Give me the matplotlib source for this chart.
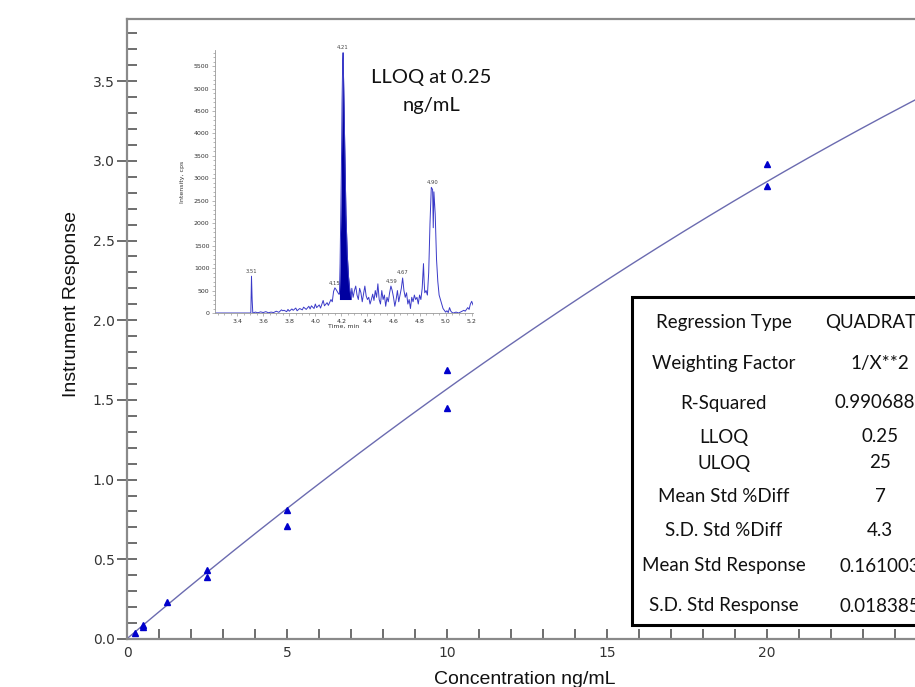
import numpy as np
import matplotlib
matplotlib.use("Agg")
import matplotlib.pyplot as plt
from matplotlib.patches import Rectangle
from matplotlib.ticker import MultipleLocator, FormatStrFormatter

# calibration standards (ng/mL) and measured response
conc = [0.25, 0.5, 0.5, 1.25, 2.5, 2.5, 5, 5, 10, 10, 20, 20]
resp = [0.04, 0.09, 0.075, 0.232, 0.433, 0.39, 0.81, 0.71, 1.69, 1.45, 2.98, 2.84]

# quadratic regression (x^2, x, const)
fit_coef = [-0.00133, 0.170, 0.002]

# summary table
table_labels = ["Regression Type", "Weighting Factor", "R-Squared", "LLOQ", "ULOQ",
                "Mean Std %Diff", "S.D. Std %Diff", "Mean Std Response", "S.D. Std Response"]
table_values = ["QUADRATIC", "1/X**2", "0.9906888", "0.25", "25",
                "7", "4.3", "0.161003", "0.018385"]

# LLOQ chromatogram (time min, intensity cps)
chrom_t = [3.23, 3.30, 3.40, 3.49, 3.505, 3.51, 3.515, 3.52, 3.54, 3.56, 3.58, 3.60, 3.62,
           3.64, 3.66, 3.68, 3.70, 3.72, 3.74, 3.75, 3.76, 3.78, 3.79, 3.80, 3.82, 3.83,
           3.85, 3.86, 3.88, 3.90, 3.91, 3.93, 3.95, 3.96, 3.97, 3.99, 4.00, 4.01, 4.03,
           4.04, 4.06, 4.07, 4.09, 4.10, 4.12, 4.13, 4.14, 4.15, 4.16, 4.17, 4.18,
           4.185, 4.19, 4.20, 4.205, 4.21, 4.213, 4.218, 4.225, 4.235, 4.245, 4.255, 4.265,
           4.275, 4.28, 4.29, 4.30, 4.31, 4.32, 4.33, 4.34, 4.35, 4.36, 4.37, 4.38, 4.39,
           4.40, 4.41, 4.42, 4.43, 4.44, 4.45, 4.46, 4.47, 4.48, 4.49, 4.50, 4.51, 4.52,
           4.53, 4.54, 4.55, 4.56, 4.57, 4.58, 4.59, 4.60, 4.61, 4.62, 4.63, 4.64, 4.65,
           4.66, 4.67, 4.68, 4.69, 4.70, 4.71, 4.72, 4.73, 4.74, 4.75, 4.76, 4.77, 4.78,
           4.79, 4.80, 4.81, 4.82, 4.83, 4.835, 4.84, 4.85, 4.86, 4.87, 4.88, 4.89, 4.90,
           4.905, 4.91, 4.92, 4.93, 4.94, 4.95, 4.96, 4.97, 4.98, 4.99, 5.00, 5.01, 5.02,
           5.03, 5.04, 5.05, 5.06, 5.08, 5.10, 5.12, 5.14, 5.15, 5.17, 5.18, 5.19, 5.20, 5.21]
chrom_i = [0, 0, 0, 0, 0, 820, 300, 0, 20, 5, 25, 10, 30,
           5, 20, 10, 40, 15, 70, 50, 60, 30, 80, 40, 90, 60,
           110, 50, 100, 70, 130, 80, 150, 90, 160, 100, 200, 120, 180,
           110, 280, 160, 230, 170, 300, 250, 480, 560, 520, 470, 420,
           420, 1100, 3200, 4700, 5600, 5800, 5000, 3800, 2200, 1300, 800, 500,
           350, 550, 350, 500, 600, 400, 300, 550, 450, 250, 420, 600, 380,
           300, 350, 200, 300, 420, 280, 500, 350, 650, 300, 200, 500, 300,
           400, 150, 350, 250, 450, 600, 500, 350, 150, 300, 500, 250, 400,
           550, 780, 500, 350, 450, 200, 300, 100, 350, 250, 400, 300, 350,
           200, 400, 300, 550, 1100, 700, 450, 500, 400, 900, 2000, 2800, 2750,
           1900, 2700, 2200, 1200, 700, 400, 300, 200, 100, 60, 20, 50, 10,
           120, 40, 10, 0, 20, 0, 30, 60, 40, 120, 80, 200, 260, 180]
peak_t = [3.51, 4.145, 4.21, 4.585, 4.67, 4.90]
peak_i = [820, 540, 5800, 580, 780, 2800]
peak_lbl = ["3.51", "4.15", "4.21", "4.59", "4.67", "4.90"]

W, H = 915, 687
fig = plt.figure(figsize=(W / 100, H / 100), dpi=100)

narrow = ["Liberation Sans Narrow", "Liberation Sans", "DejaVu Sans"]
gothic = ["Lato", "DejaVu Sans"]
axis_grey = "#8a8a8a"

# ---- main calibration axes ----
ax = fig.add_axes([127 / W, 1 - 639 / H, 26 * 32 / W, 620 / H])
ax.set_xlim(0, 26)
ax.set_ylim(0, 3.89)

xs = np.linspace(0, 26, 300)
ax.plot(xs, np.polyval(fit_coef, xs), color="#6b6bb0", lw=1.0, zorder=2)
ax.plot(conc, resp, ls="none", marker="^", ms=5, color="#0000cc", zorder=3)

for s in ["top", "left", "bottom", "right"]:
    ax.spines[s].set_color(axis_grey)
    ax.spines[s].set_linewidth(1.6)

ax.xaxis.set_major_locator(MultipleLocator(5))
ax.xaxis.set_minor_locator(MultipleLocator(1))
ax.yaxis.set_major_locator(MultipleLocator(0.5))
ax.yaxis.set_minor_locator(MultipleLocator(0.1))
ax.yaxis.set_major_formatter(FormatStrFormatter("%.1f"))
ax.tick_params(axis="x", which="both", direction="in", length=7, width=1.2,
               color="#555555", labelsize=10, labelcolor="#333333", pad=5)
ax.tick_params(axis="y", which="major", direction="inout", length=14, width=1.2,
               color="#555555", labelsize=10, labelcolor="#333333", pad=2)
ax.tick_params(axis="y", which="minor", direction="in", length=7, width=1.2, color="#555555")
ax.tick_params(top=False, right=False, which="both")

fig.text(72 / W, 1 - 304 / H, "Instrument Response", rotation=90, ha="center", va="center",
         fontsize=14, family=narrow, color="#111111")
fig.text(525 / W, 1 - 680 / H, "Concentration ng/mL", ha="center", va="center",
         fontsize=14, family=narrow, color="#111111")

# ---- summary table ----
fig.patches.append(Rectangle((632 / W, 1 - 625 / H), 400 / W, 328 / H, transform=fig.transFigure,
                             facecolor="white", edgecolor="black", lw=2.2, zorder=5))
row_y = [323, 363, 403, 437, 463, 497, 531, 566, 606]
for yy, lab, val in zip(row_y, table_labels, table_values):
    fig.text(724 / W, 1 - yy / H, lab, ha="center", va="center", fontsize=13.5,
             family=gothic, color="#111111", zorder=6)
    fig.text(880 / W, 1 - yy / H, val, ha="center", va="center", fontsize=13.5,
             family=gothic, color="#111111", zorder=6)

# ---- inset chromatogram ----
ins = fig.add_axes([215 / W, 1 - 313 / H, 258 / W, 263 / H])
ins.set_xlim(3.23, 5.21)
ins.set_ylim(0, 5860)
ins.plot(chrom_t, chrom_i, color="#3a3ac8", lw=0.7)
t_arr = np.array(chrom_t)
i_arr = np.array(chrom_i)
m = (t_arr >= 4.185) & (t_arr <= 4.275)
ins.fill_between(t_arr[m], 300, i_arr[m], color="#0000a0", lw=0)
for pt, pi, pl in zip(peak_t, peak_i, peak_lbl):
    ins.text(pt, pi + 60, pl, ha="center", va="bottom", fontsize=3.8, color="#444444")

ins.spines["top"].set_visible(False)
ins.spines["right"].set_visible(False)
for s in ["left", "bottom"]:
    ins.spines[s].set_color("#999999")
    ins.spines[s].set_linewidth(0.6)
ins.set_facecolor("none")
ins.xaxis.set_major_locator(MultipleLocator(0.2))
ins.xaxis.set_minor_locator(MultipleLocator(0.05))
ins.yaxis.set_major_locator(MultipleLocator(500))
ins.yaxis.set_minor_locator(MultipleLocator(100))
ins.xaxis.set_major_formatter(FormatStrFormatter("%.1f"))
ins.tick_params(which="both", direction="out", color="#999999", width=0.5,
                labelsize=4.5, labelcolor="#333333", pad=1.5)
ins.tick_params(which="major", length=2.5)
ins.tick_params(which="minor", length=1.2)
ins.set_xlabel("Time, min", fontsize=4.5, labelpad=0.5, color="#333333")
ins.set_ylabel("Intensity, cps", fontsize=4.5, labelpad=6, color="#333333")

fig.text(431 / W, 1 - 78 / H, "LLOQ at 0.25", ha="center", va="center",
         fontsize=14.5, family=gothic, color="#111111")
fig.text(431 / W, 1 - 105 / H, "ng/mL", ha="center", va="center",
         fontsize=14.5, family=gothic, color="#111111")

fig.savefig("out.png", dpi=100)
